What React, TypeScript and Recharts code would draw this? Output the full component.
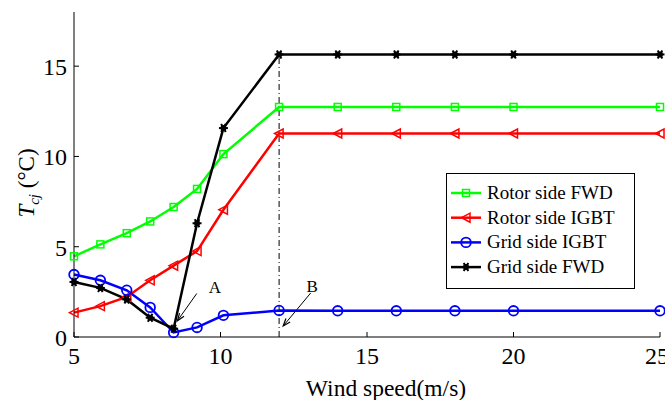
import React from 'react';
import {
  LineChart, Line, XAxis, YAxis, ReferenceLine, Legend,
} from 'recharts';

const windSpeed = [5, 5.9, 6.8, 7.6, 8.4, 9.2, 10.1, 12, 14, 16, 18, 20, 25];
const rotorFwd = [4.47, 5.13, 5.75, 6.4, 7.2, 8.2, 10.13, 12.74, 12.74, 12.74, 12.74, 12.74, 12.74];
const rotorIgbt = [1.35, 1.71, 2.22, 3.14, 3.95, 4.76, 7.05, 11.27, 11.27, 11.27, 11.27, 11.27, 11.27];
const gridIgbt = [3.46, 3.14, 2.59, 1.64, 0.25, 0.53, 1.2, 1.47, 1.45, 1.45, 1.45, 1.45, 1.45];
const gridFwd = [3.05, 2.72, 2.08, 1.07, 0.46, 6.3, 11.57, 15.65, 15.65, 15.65, 15.65, 15.65, 15.65];

const xTicks = [5, 10, 15, 20, 25];
const yTicks = [0, 5, 10, 15];

const data = windSpeed.map((w, i) => ({
  w,
  rotorFwd: rotorFwd[i],
  rotorIgbt: rotorIgbt[i],
  gridIgbt: gridIgbt[i],
  gridFwd: gridFwd[i],
}));

const FONT = '"Liberation Serif", "Times New Roman", serif';
const GREEN = '#00ff00';
const RED = '#ff0000';
const BLUE = '#0000ff';
const BLACK = '#000000';

const SquareDot = ({ cx, cy }: any) => (
  <rect x={cx - 3.5} y={cy - 3.5} width={7} height={7} fill="none" stroke={GREEN} strokeWidth={1.5} />
);
const TriDot = ({ cx, cy }: any) => (
  <polygon points={`${cx - 4.5},${cy} ${cx + 4},${cy - 4.5} ${cx + 4},${cy + 4.5}`} fill="none" stroke={RED} strokeWidth={1.5} />
);
const CircleDot = ({ cx, cy }: any) => (
  <circle cx={cx} cy={cy} r={4.8} fill="none" stroke={BLUE} strokeWidth={1.8} />
);
const StarDot = ({ cx, cy }: any) => (
  <g stroke={BLACK} strokeWidth={2}>
    <line x1={cx - 4.5} y1={cy} x2={cx + 4.5} y2={cy} />
    <line x1={cx - 2.3} y1={cy - 4} x2={cx + 2.3} y2={cy + 4} />
    <line x1={cx - 2.3} y1={cy + 4} x2={cx + 2.3} y2={cy - 4} />
    <circle cx={cx} cy={cy} r={3} fill={BLACK} stroke="none" />
  </g>
);

const legendItems = [
  { name: 'Rotor side FWD', color: GREEN, Dot: SquareDot },
  { name: 'Rotor side IGBT', color: RED, Dot: TriDot },
  { name: 'Grid side IGBT', color: BLUE, Dot: CircleDot },
  { name: 'Grid side FWD', color: BLACK, Dot: StarDot },
];

const LegendBox = () => (
  <svg width={190} height={117} style={{ display: 'block' }}>
    <rect x={0.5} y={0.5} width={188} height={115} fill="#fff" stroke="#000" strokeWidth={1} />
    {legendItems.map((it, i) => {
      const y = 20 + i * 24.7;
      return (
        <g key={it.name}>
          <line x1={5} y1={y} x2={35} y2={y} stroke={it.color} strokeWidth={2.5} />
          <it.Dot cx={20} cy={y} />
          <text x={41} y={y + 6} fontFamily={FONT} fontSize={19} fill="#000">{it.name}</text>
        </g>
      );
    })}
  </svg>
);

const arrowShape = (label: string, dx: number, dy: number) => (props: any) => {
  const { x1, y1, x2, y2 } = props;
  const ang = Math.atan2(y2 - y1, x2 - x1);
  const len = 8;
  const spread = 0.35;
  const p1 = `${x2 - len * Math.cos(ang - spread)},${y2 - len * Math.sin(ang - spread)}`;
  const p2 = `${x2 - len * Math.cos(ang + spread)},${y2 - len * Math.sin(ang + spread)}`;
  return (
    <g>
      <line x1={x1} y1={y1} x2={x2} y2={y2} stroke="#000" strokeWidth={1} />
      <polyline points={`${p1} ${x2},${y2} ${p2}`} fill="none" stroke="#000" strokeWidth={1.2} />
      <text x={x1 + dx} y={y1 + dy} fontFamily={FONT} fontSize={17} textAnchor="middle" fill="#000">{label}</text>
    </g>
  );
};

const XTick = ({ x, payload }: any) => (
  <text x={x} y={364} textAnchor="middle" fontFamily={FONT} fontSize={24} fill="#000">{payload.value}</text>
);
const YTick = ({ y, payload }: any) => (
  <text x={67} y={y + 9} textAnchor="end" fontFamily={FONT} fontSize={24} fill="#000">{payload.value}</text>
);

const App: React.FC = () => {
  return (
    <div style={{ position: 'absolute', left: 0, top: 0, width: 665, height: 400, background: '#fff' }}>
      <LineChart width={665} height={400} data={data} margin={{ top: 12, right: 5, bottom: 23, left: 14 }}>
        <XAxis
          dataKey="w"
          type="number"
          domain={[5, 25]}
          ticks={xTicks}
          tickSize={-5}
          stroke="#000"
          height={40}
          tick={<XTick />}
          label={() => (
            <text x={386} y={396} textAnchor="middle" fontFamily={FONT} fontSize={23.5} fill="#000">Wind speed(m/s)</text>
          )}
        />
        <XAxis
          xAxisId="top"
          orientation="top"
          type="number"
          domain={[5, 25]}
          ticks={xTicks}
          tick={false}
          tickSize={-5}
          stroke="#000"
          height={0}
        />
        <YAxis
          type="number"
          domain={[0, 18]}
          ticks={yTicks}
          tickSize={-5}
          width={60}
          stroke="#000"
          tick={<YTick />}
          label={() => (
            <text transform="translate(34,183) rotate(-90)" textAnchor="middle" fontFamily={FONT} fontSize={23} fill="#000">
              <tspan fontStyle="italic">T</tspan>
              <tspan fontStyle="italic" fontSize={15} dy={5}>cj</tspan>
              <tspan dy={-5}> (°C)</tspan>
            </text>
          )}
        />
        <YAxis
          yAxisId="right"
          orientation="right"
          type="number"
          domain={[0, 18]}
          ticks={yTicks}
          tick={false}
          tickSize={-5}
          width={0}
          stroke="#000"
        />
        <ReferenceLine
          segment={[{ x: 12, y: 0 }, { x: 12, y: 15.65 }]}
          stroke="#000"
          strokeWidth={1}
          strokeDasharray="6 3 1 3"
        />
        <ReferenceLine
          segment={[{ x: 9.19, y: 2.41 }, { x: 8.53, y: 0.9 }]}
          shape={arrowShape('A', 18, 0)}
        />
        <ReferenceLine
          segment={[{ x: 13.08, y: 2.44 }, { x: 12.14, y: 0.61 }]}
          shape={arrowShape('B', 1.5, -0.5)}
        />
        <Line dataKey="rotorFwd" name="Rotor side FWD" stroke={GREEN} strokeWidth={2.5} dot={<SquareDot />} isAnimationActive={false} />
        <Line dataKey="rotorIgbt" name="Rotor side IGBT" stroke={RED} strokeWidth={2.5} dot={<TriDot />} isAnimationActive={false} />
        <Line dataKey="gridIgbt" name="Grid side IGBT" stroke={BLUE} strokeWidth={2.5} dot={<CircleDot />} isAnimationActive={false} />
        <Line dataKey="gridFwd" name="Grid side FWD" stroke={BLACK} strokeWidth={2.5} dot={<StarDot />} isAnimationActive={false} />
        <Legend
          layout="horizontal"
          verticalAlign="middle"
          content={() => <LegendBox />}
          wrapperStyle={{ position: 'absolute', left: 446, top: 173, width: 190, height: 117 }}
        />
      </LineChart>
    </div>
  );
};

export default App;
